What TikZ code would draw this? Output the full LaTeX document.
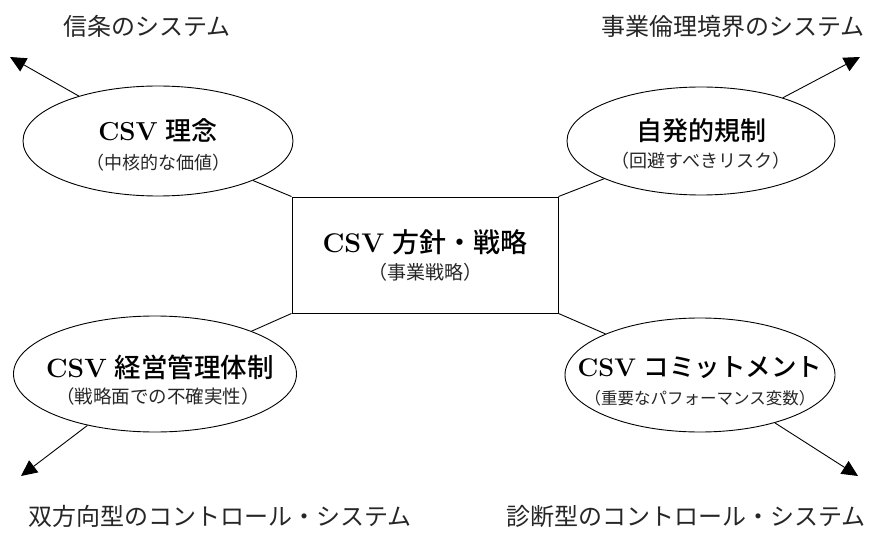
\documentclass[tikz,border=0pt]{standalone}
\usepackage{fontspec}
\newfontfamily\jp{Noto Sans CJK JP}
\newfontfamily\jpm{Noto Sans CJK JP Medium}
\usetikzlibrary{shapes.geometric,arrows.meta}
\tikzset{
  ell/.style={draw, ellipse, line width=0.9pt, inner sep=0pt},
  boxnode/.style={draw, rectangle, line width=0.9pt, inner sep=0pt, minimum width=266pt, minimum height=116pt},
  link/.style={line width=0.9pt},
  arr/.style={line width=0.9pt, -{Triangle[length=16pt,width=15pt]}},
  ttl/.style={inner sep=0pt, font=\fontsize{26}{30}\selectfont},
  sub/.style={inner sep=0pt, text=black!85, font=\jp\fontsize{18}{22}\selectfont},
  outer/.style={inner sep=0pt, text=black!85, font=\jp\fontsize{24}{28}\selectfont},
}
\begin{document}
\begin{tikzpicture}[x=1pt,y=-1pt]
\useasboundingbox (0,0) rectangle (872,545);
% shapes
\node[boxnode] (box) at (425,255) {};
\node[ell, minimum width=270pt, minimum height=110pt] (tl) at (158,141) {};
\node[ell, minimum width=268pt, minimum height=108pt] (tr) at (701,141) {};
\node[ell, minimum width=283pt, minimum height=116pt] (bl) at (155,374) {};
\node[ell, minimum width=270pt, minimum height=114pt] (br) at (700,375) {};
% texts
\node[ttl] (tlt) at (158,130) {{\bfseries CSV} {\jpm 理念}};
\node[sub] (tls) at (158,163) {（中核的な価値）};
\node[ttl] (trt) at (701,131) {\jpm 自発的規制};
\node[sub] (trs) at (701,161) {（回避すべきリスク）};
\node[ttl, font=\fontsize{27}{31}\selectfont] (boxt) at (425,242) {{\bfseries CSV} {\jpm 方針・戦略}};
\node[sub, font=\jp\fontsize{19}{23}\selectfont] (boxs) at (425,272) {（事業戦略）};
\node[ttl, font=\fontsize{26.5}{30}\selectfont] (blt) at (160,367) {{\bfseries CSV} {\jpm 経営管理体制}};
\node[sub, font=\jp\fontsize{18.5}{22}\selectfont] (bls) at (158,396) {（戦略面での不確実性）};
\node[ttl, font=\fontsize{25.5}{29}\selectfont] (brt) at (700,368) {{\bfseries CSV} {\jpm コミットメント}};
\node[sub, font=\jp\fontsize{16.5}{20}\selectfont] (brs) at (700,398) {（重要なパフォーマンス変数）};
\node[outer] (o1) at (147,26) {信条のシステム};
\node[outer] (o2) at (733,26) {事業倫理境界のシステム};
\node[outer] (o3) at (220,516) {双方向型のコントロール・システム};
\node[outer] (o4) at (686,516) {診断型のコントロール・システム};
% tips
\coordinate (ptl) at (10,57);
\coordinate (ptr) at (860,57);
\coordinate (pbl) at (21,476);
\coordinate (pbr) at (858,476);
% connectors
\draw[link] (box.north west) -- (tl);
\draw[link] (box.north east) -- (tr);
\draw[link] (box.south west) -- (bl);
\draw[link] (box.south east) -- (br);
\draw[arr] (tl) -- (ptl);
\draw[arr] (tr) -- (ptr);
\draw[arr] (bl) -- (pbl);
\draw[arr] (br) -- (pbr);
\end{tikzpicture}
\end{document}
